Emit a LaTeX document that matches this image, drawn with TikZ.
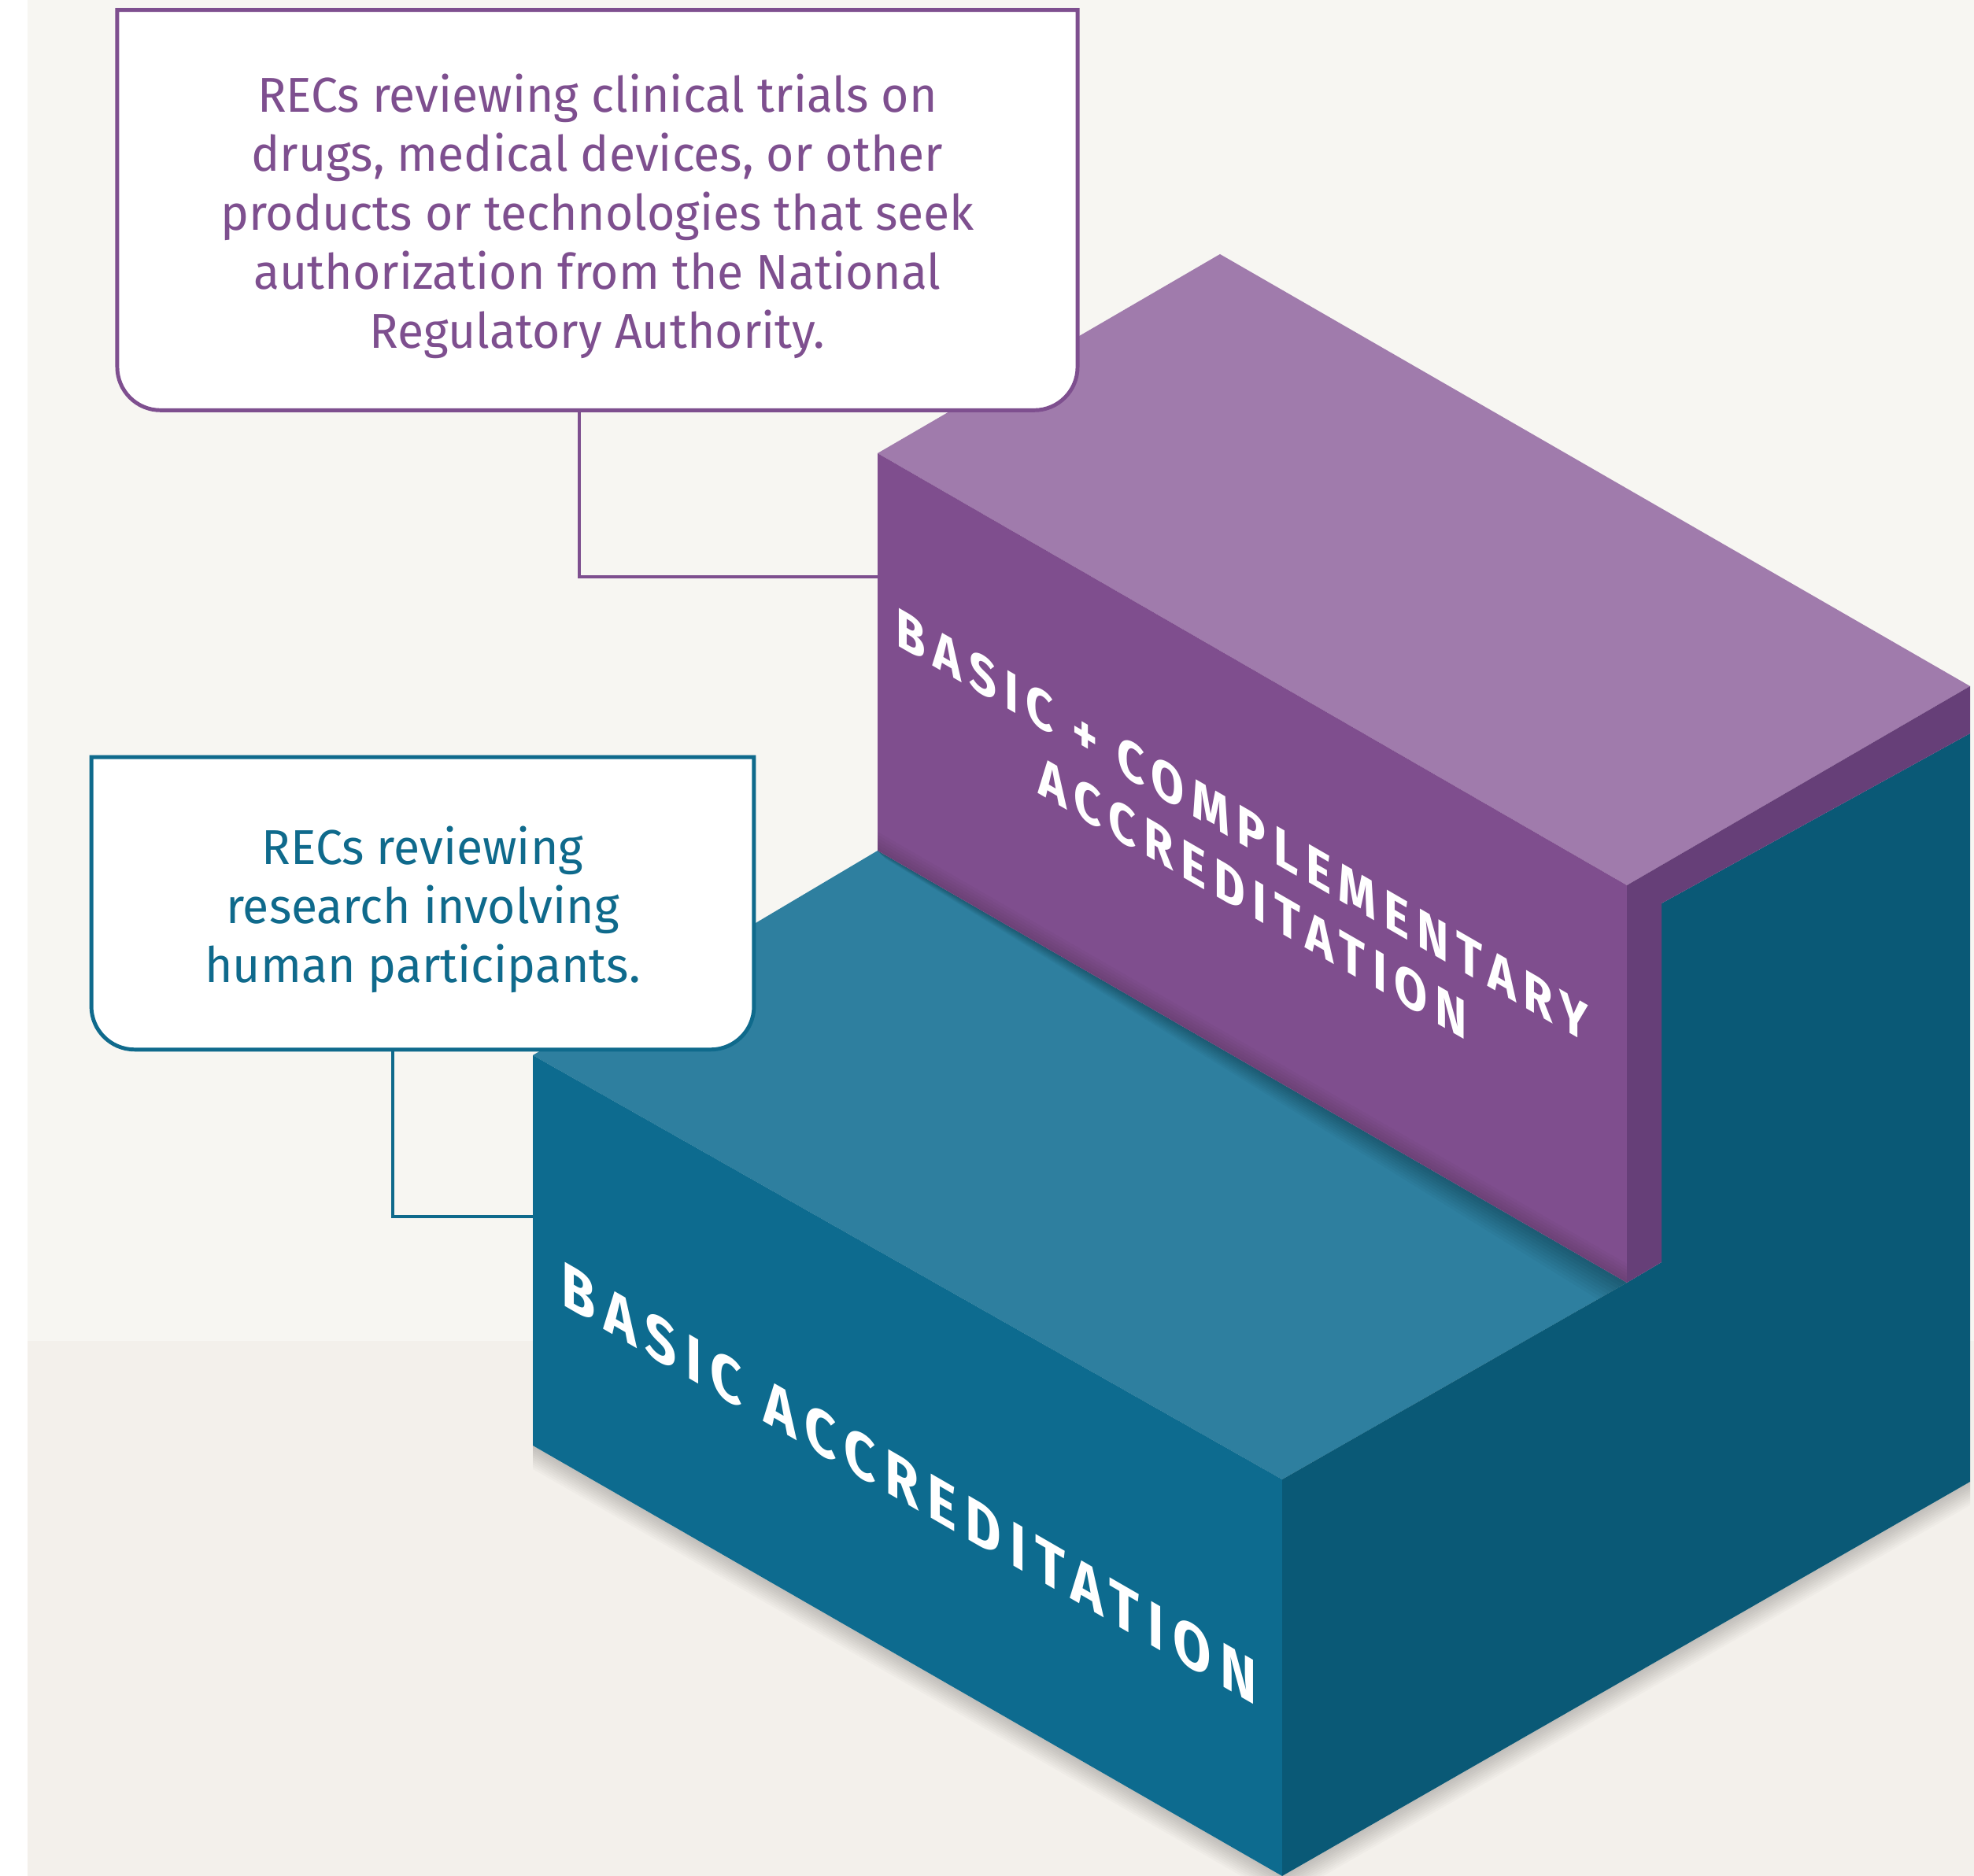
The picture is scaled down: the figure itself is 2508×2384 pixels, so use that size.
\documentclass[tikz,border=0pt]{standalone}
\usepackage{fontspec}
\setmainfont{Fira Sans}[FakeStretch=0.975]
\newfontfamily\stepfont{Fira Sans}[LetterSpace=16]
\usetikzlibrary{positioning,calc}
\definecolor{bgtop}{HTML}{F7F6F2}
\definecolor{bgbottom}{HTML}{F3F0EB}
\definecolor{recpurple}{HTML}{7E4F8F}
\definecolor{recteal}{HTML}{0F6A8C}
\definecolor{purpletop}{HTML}{A07BAC}
\definecolor{purplefront}{HTML}{7F4E8E}
\definecolor{purpleside}{HTML}{663F78}
\definecolor{tealtop}{HTML}{2E7F9F}
\definecolor{tealfront}{HTML}{0D6B8F}
\definecolor{tealside}{HTML}{0A5976}
\pgfdeclarelayer{blocks}
\pgfdeclarelayer{boxes}
\pgfsetlayers{blocks,boxes,main}
\tikzset{>=latex}

\begin{document}
\begin{tikzpicture}[x=0.01cm, y=0.01cm,
		boxtext/.style={inner sep=0pt, align=center, font=\fontsize{17.7}{21.3}\selectfont},
		outline/.style={line width=1.4pt, fill=white},
		link/.style={line width=1.4pt},
		steptext/.style={text=white, inner sep=0pt, anchor=base, font=\stepfont\bfseries\fontsize{#1}{24}\selectfont},
		steptext/.default=20]
		\useasboundingbox (0,0) rectangle (2508,2384);

		\coordinate (ptopl) at (1115,1808);
		\coordinate (ptopb) at (1550,2061);
		\coordinate (ptopr) at (2503,1512);
		\coordinate (ptopf) at (2067,1259);
		\coordinate (pbotl) at (1115,1303);
		\coordinate (pbotf) at (2067,754);
		\coordinate (pside) at (2503,1452);
		\coordinate (pstepu) at (2111,1236);
		\coordinate (pstepd) at (2111,780);
		\coordinate (ttopl) at (677,1043);
		\coordinate (ttopf) at (1629,504);
		\coordinate (tbotf) at (1629,0);
		\coordinate (tbotl) at (677,547);
		\coordinate (tbotr) at (2503,501);

		\begin{pgfonlayer}{blocks}
			\fill[bgtop] (35,680) rectangle (2508,2384);
			\fill[bgbottom] (35,0) rectangle (2508,680);
			% soft shadow under the steps
			\foreach \s in {3,6,...,30}
				\fill[black, opacity=0.018] (tbotl) -- ($(tbotl)+(0,-\s)$) -- ($(tbotf)+(0,-\s)$) -- ($(tbotr)+(0,-\s)$) -- (tbotr) -- (tbotf) -- cycle;
			\fill[tealtop] (ttopl) -- (pbotl) -- (pbotf) -- (ttopf) -- cycle;
			\foreach \s in {4,8,...,36}
				\fill[black, opacity=0.03] (pbotl) -- (pbotf) -- ($(pbotf)+(-\s,-\s*0.6)$) -- ($(pbotl)+(\s*0.3,-\s*0.3)$) -- cycle;
			\fill[tealfront] (ttopl) -- (ttopf) -- (tbotf) -- (tbotl) -- cycle;
			\fill[tealside] (ttopf) -- (pbotf) -- (pstepd) -- (pstepu) -- (pside) -- (tbotr) -- (tbotf) -- cycle;
			\fill[purpletop] (ptopl) -- (ptopb) -- (ptopr) -- (ptopf) -- cycle;
			\fill[purplefront] (ptopl) -- (ptopf) -- (pbotf) -- (pbotl) -- cycle;
			\foreach \s in {4,8,...,24}
				\fill[black, opacity=0.025] (pbotl) -- (pbotf) -- ($(pbotf)+(0,\s)$) -- ($(pbotl)+(0,\s)$) -- cycle;
			\fill[purpleside] (ptopf) -- (ptopr) -- (pside) -- (pstepu) -- (pstepd) -- (pbotf) -- cycle;
		\end{pgfonlayer}

		\begin{scope}[shift={(1578,1311)}, cm={0.866,-0.5,0,1,(0,0)}, transform shape]
			\node[steptext] (uppera) at (0,0) {BASIC + COMPLEMENTARY};
			\node[steptext] (upperb) at (16,-85) {ACCREDITATION};
		\end{scope}
		\begin{scope}[shift={(1155,471)}, cm={0.866,-0.5,0,1,(0,0)}, transform shape]
			\node[steptext=23] (lower) at (0,0) {BASIC ACCREDITATION};
		\end{scope}

		\node[boxtext, text=recpurple, minimum width=12.18cm, minimum height=4.91cm] (pbox) at (759,2109)
			{RECs reviewing clinical trials on\\drugs, medical devices, or other\\products or technologies that seek\\authorization from the National\\Regulatory Authority.};
		\node[boxtext, text=recteal, minimum width=8.4cm, minimum height=3.54cm] (tbox) at (537,1228)
			{RECs reviewing\\research involving\\human participants.};

		\begin{pgfonlayer}{boxes}
			\draw[outline, draw=recpurple] ([yshift=0.16cm]pbox.north west) -- ([yshift=0.16cm]pbox.north east) -- ([yshift=0.55cm]pbox.south east)
				arc[start angle=0, end angle=-90, radius=0.55cm] -- ([xshift=0.55cm]pbox.south west)
				arc[start angle=270, end angle=180, radius=0.55cm] -- cycle;
			\draw[outline, draw=recteal] ([yshift=0.16cm]tbox.north west) -- ([yshift=0.16cm]tbox.north east) -- ([yshift=0.55cm]tbox.south east)
				arc[start angle=0, end angle=-90, radius=0.55cm] -- ([xshift=0.55cm]tbox.south west)
				arc[start angle=270, end angle=180, radius=0.55cm] -- cycle;
		\end{pgfonlayer}

		\coordinate (pturn) at (736,1651);
		\coordinate (tturn) at (499,838);
		\draw[link, recpurple] (pbox.south -| pturn) -- (pturn) -- (pturn -| ptopl);
		\draw[link, recteal] (tbox.south -| tturn) -- (tturn) -- (tturn -| ttopl);
	\end{tikzpicture}
\end{document}
